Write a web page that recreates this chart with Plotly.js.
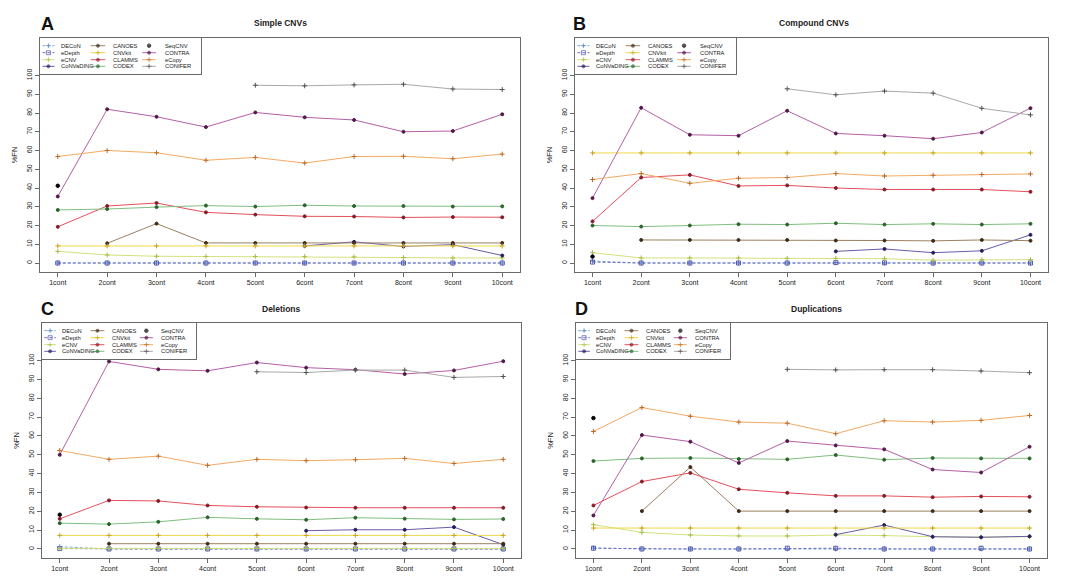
<!DOCTYPE html>
<html><head><meta charset="utf-8">
<script src="https://cdn.plot.ly/plotly-3.0.1.min.js"></script>
<style>html,body{margin:0;padding:0;background:#fff}#chart{width:1080px;height:584px}</style>
</head><body><div id="chart"></div>
<script>
const categories = ['1cont','2cont','3cont','4cont','5cont','6cont','7cont','8cont','9cont','10cont'];
const methods = ['DECoN','eDepth','eCNV','CoNVaDING','CANOES','CNVkit','CLAMMS','CODEX','SeqCNV','CONTRA','eCopy','CONIFER'];
const panelTitles = ['Simple CNVs','Compound CNVs','Deletions','Duplications'];
const panelLetters = ['A','B','C','D'];
const yTickValues = [0,10,20,30,40,50,60,70,80,90,100];
const yAxisTitle = '%FN';

// Panel A: Simple CNVs
const A_DECoN     = [0,0,0,0,0,0,0,0,0,0];
const A_eDepth    = [0,0,0,0,0,0,0,0,0,0];
const A_eCNV      = [6.2,4.3,3.6,3.5,3.5,3.5,3.3,2.9,2.7,2.7];
const A_CoNVaDING = [null,null,null,null,null,9.1,11.3,8.8,9.8,4.0];
const A_CANOES    = [null,10.5,21,10.7,10.7,10.7,10.7,10.7,10.7,10.7];
const A_CNVkit    = [9.1,9.1,9.1,9.1,9.1,9.1,9.1,9.1,9.1,9.1];
const A_CLAMMS    = [19.3,30.4,32,27,25.8,24.9,24.8,24.3,24.5,24.4];
const A_CODEX     = [28.3,28.8,29.8,30.6,30.1,30.8,30.4,30.4,30.1,30.2];
const A_SeqCNV    = [41.2,null,null,null,null,null,null,null,null,null];
const A_CONTRA    = [35.5,82,78,72.5,80.3,77.7,76.3,70,70.4,79.3];
const A_eCopy     = [56.8,60,58.8,54.8,56.3,53.3,56.8,56.9,55.6,58.1];
const A_CONIFER   = [null,null,null,null,94.8,94.5,95,95.3,92.8,92.5];

// Panel B: Compound CNVs
const B_DECoN     = [1,0,0,0,0,0.3,0,0,0,0];
const B_eDepth    = [0.5,0,0,0,0,0.2,0.1,0,0,0];
const B_eCNV      = [5.5,2.7,2.7,2.7,2.5,2.5,2.3,1.5,1.8,1.8];
const B_CoNVaDING = [null,null,null,null,null,6.2,7.5,5.5,6.5,15];
const B_CANOES    = [null,12.3,12.3,12.3,12.3,12,12,11.8,12.3,11.9];
const B_CNVkit    = [58.7,58.7,58.7,58.7,58.7,58.7,58.7,58.7,58.7,58.7];
const B_CLAMMS    = [22.2,45.6,47,41.1,41.4,40,39.2,39.2,39.2,38];
const B_CODEX     = [20,19.4,20,20.7,20.5,21.2,20.5,20.9,20.5,20.9];
const B_SeqCNV    = [3.4,null,null,null,null,null,null,null,null,null];
const B_CONTRA    = [34.6,82.8,68.4,67.9,81.2,69.1,67.9,66.3,69.6,82.6];
const B_eCopy     = [44.5,47.7,42.5,45.2,45.6,47.7,46.4,46.8,47.2,47.5];
const B_CONIFER   = [null,null,null,null,92.9,89.7,91.7,90.6,82.5,79];

// Panel C: Deletions
const C_DECoN     = [1.2,0,0,0,0,0,0,0,0,0];
const C_eDepth    = [0.2,0,0,0,0,0,0,0,0,0];
const C_eCNV      = [0.3,0.3,0.3,0.3,0.3,0.3,0.3,0.3,0.3,0.3];
const C_CoNVaDING = [null,null,null,null,null,9.7,10.2,10.2,11.6,2.3];
const C_CANOES    = [null,2.8,2.8,2.8,2.8,2.8,2.8,2.8,2.8,2.8];
const C_CNVkit    = [7.2,7.2,7.2,7.2,7.2,7.2,7.2,7.2,7.2,7.2];
const C_CLAMMS    = [16,25.8,25.5,23.1,22.4,22,21.9,21.9,21.9,21.9];
const C_CODEX     = [13.7,13.2,14.4,16.8,16,15.5,16.6,16.1,15.7,15.9];
const C_SeqCNV    = [18.2,null,null,null,null,null,null,null,null,null];
const C_CONTRA    = [50,99.6,95.4,94.6,99,96.3,95.2,92.9,94.8,99.7];
const C_eCopy     = [52.3,47.6,49.3,44.4,47.6,46.9,47.4,48.1,45.4,47.6];
const C_CONIFER   = [null,null,null,null,94.1,93.7,95,95,91.1,91.6];

// Panel D: Duplications
const D_DECoN     = [0.5,0,0,0,0,0,0,0,0,0];
const D_eDepth    = [0.4,0,0,0,0.4,0.4,0,0,0.4,0];
const D_eCNV      = [12.9,8.8,7.4,6.9,6.9,7.4,7.1,6.5,6.3,6.5];
const D_CoNVaDING = [null,null,null,null,null,7.6,12.7,6.5,6.2,6.7];
const D_CANOES    = [null,20.1,43.5,20.1,20.1,20.1,20.1,20.1,20.1,20.1];
const D_CNVkit    = [11.1,11.1,11.1,11.1,11.1,11.1,11.1,11.1,11.1,11.1];
const D_CLAMMS    = [23.1,35.8,40.4,31.7,29.8,28.2,28.2,27.5,27.9,27.7];
const D_CODEX     = [46.7,48.1,48.3,47.8,47.6,49.9,47.4,48.3,48.1,48.1];
const D_SeqCNV    = [69.5,null,null,null,null,null,null,null,null,null];
const D_CONTRA    = [17.8,60.5,57,45.7,57.3,55,52.9,42.2,40.6,54.3];
const D_eCopy     = [62.4,75.1,70.5,67.4,66.8,61.2,68.1,67.4,68.3,70.9];
const D_CONIFER   = [null,null,null,null,95.4,95.1,95.2,95.2,94.5,93.6];

const panelSeries = [
  [A_DECoN,A_eDepth,A_eCNV,A_CoNVaDING,A_CANOES,A_CNVkit,A_CLAMMS,A_CODEX,A_SeqCNV,A_CONTRA,A_eCopy,A_CONIFER],
  [B_DECoN,B_eDepth,B_eCNV,B_CoNVaDING,B_CANOES,B_CNVkit,B_CLAMMS,B_CODEX,B_SeqCNV,B_CONTRA,B_eCopy,B_CONIFER],
  [C_DECoN,C_eDepth,C_eCNV,C_CoNVaDING,C_CANOES,C_CNVkit,C_CLAMMS,C_CODEX,C_SeqCNV,C_CONTRA,C_eCopy,C_CONIFER],
  [D_DECoN,D_eDepth,D_eCNV,D_CoNVaDING,D_CANOES,D_CNVkit,D_CLAMMS,D_CODEX,D_SeqCNV,D_CONTRA,D_eCopy,D_CONIFER]
];

// ---- styles (not data) ----
const styles = {
  DECoN:     {color:'#7fa7d9', mcolor:'#4f80c0', symbol:'cross-thin-open', dash:'3px,2px', size:3.5},
  eDepth:    {color:'#6f6fc4', mcolor:'#5656b0', symbol:'square-open', dash:'3px,2px', size:4},
  eCNV:      {color:'#d3e27c', mcolor:'#a8bd48', symbol:'cross-thin-open', dash:'solid', size:3.5},
  CoNVaDING: {color:'#6a5aa8', mcolor:'#261e5c', symbol:'circle', dash:'solid', size:3},
  CANOES:    {color:'#9c8060', mcolor:'#3e2a18', symbol:'circle', dash:'solid', size:3},
  CNVkit:    {color:'#eed84c', mcolor:'#c8a420', symbol:'cross-thin-open', dash:'solid', size:3.5},
  CLAMMS:    {color:'#e4505c', mcolor:'#8a1a28', symbol:'circle', dash:'solid', size:3},
  CODEX:     {color:'#80be80', mcolor:'#2a642a', symbol:'circle', dash:'solid', size:3},
  SeqCNV:    {color:'#000000', mcolor:'#000000', symbol:'circle', dash:'solid', size:3.5, noline:true},
  CONTRA:    {color:'#b460a6', mcolor:'#521848', symbol:'circle', dash:'solid', size:3},
  eCopy:     {color:'#f3aa64', mcolor:'#b86a28', symbol:'cross-thin-open', dash:'solid', size:3.5},
  CONIFER:   {color:'#a9a9a9', mcolor:'#505050', symbol:'cross-thin-open', dash:'solid', size:3.5}
};

const W = 1080, H = 584;
const panels = [
  {x0:40,  x1:520,  y0:38,  y1:272, lw:161, tx:280, ty:23,  lx:47,  ly:24},
  {x0:575, x1:1048, y0:38,  y1:272, lw:161, tx:814, ty:23,  lx:579, ly:24},
  {x0:42,  x1:521,  y0:323, y1:558, lw:154, tx:281, ty:309, lx:47,  ly:309},
  {x0:576, x1:1047, y0:323, y1:558, lw:154, tx:816, ty:309, lx:581, ly:309}
];
const LH = 36;
const fx = p => p / W, fy = p => 1 - p / H;
const FONT = 'Liberation Sans, Arial, sans-serif';
const lineCol = '#6a6a6a';

const traces = [];
const layout = {
  width: W, height: H, margin: {l:0, r:0, t:0, b:0},
  paper_bgcolor: '#ffffff', plot_bgcolor: 'rgba(0,0,0,0)',
  showlegend: false, font: {family: FONT, color: '#222'},
  annotations: [], shapes: []
};

// legend geometry (fractions of legend box)
const colLine = [[0.015,0.09],[0.315,0.405],[0.635,0.72]];
const colText = [0.12, 0.44, 0.762];
const rowY = [1-7.7/36, 1-14.7/36, 1-21.7/36, 1-28.3/36];

panels.forEach((p, k) => {
  const ax = k + 1, lax = k + 5;
  const xa = 'xaxis' + (ax === 1 ? '' : ax), ya = 'yaxis' + (ax === 1 ? '' : ax);
  const xr = 'x' + (ax === 1 ? '' : ax), yr = 'y' + (ax === 1 ? '' : ax);
  layout[xa] = {
    domain: [fx(p.x0), fx(p.x1)], anchor: yr, type: 'category',
    categoryorder: 'array', categoryarray: categories, range: [-0.36, 9.36],
    showline: true, mirror: true, linecolor: lineCol, linewidth: 1,
    ticks: 'outside', ticklen: 4, tickcolor: lineCol, tickwidth: 1,
    tickfont: {size: 7, family: FONT, color: '#222'},
    showgrid: false, zeroline: false, fixedrange: true
  };
  layout[ya] = {
    domain: [fy(p.y1), fy(p.y0)], anchor: xr, range: [-4.8, 120],
    tickvals: yTickValues, ticktext: yTickValues.map(String), tickangle: -90,
    showline: true, mirror: true, linecolor: lineCol, linewidth: 1,
    ticks: 'outside', ticklen: 4, tickcolor: lineCol, tickwidth: 1,
    tickfont: {size: 7, family: FONT, color: '#222'},
    showgrid: false, zeroline: false, fixedrange: true,
    title: {text: yAxisTitle, font: {size: 7.5, family: FONT, color: '#222'}, standoff: 7}
  };
  panelSeries[k].forEach((vals, i) => {
    const m = methods[i], s = styles[m];
    traces.push({
      type: 'scatter', x: categories, y: vals, name: m,
      xaxis: xr, yaxis: yr,
      mode: s.noline ? 'markers' : 'lines+markers',
      line: {color: s.color, width: 1, dash: s.dash},
      marker: {color: s.mcolor, size: s.size, symbol: s.symbol, line: {color: s.mcolor, width: 1}},
      connectgaps: false, hoverinfo: 'name+y'
    });
  });
  // legend box via its own axis pair
  const lxa = 'xaxis' + lax, lya = 'yaxis' + lax;
  layout[lxa] = {domain: [fx(p.x0), fx(p.x0 + p.lw)], anchor: 'y' + lax, range: [0,1],
    showline: true, mirror: true, linecolor: lineCol, linewidth: 1,
    showticklabels: false, ticks: '', showgrid: false, zeroline: false, fixedrange: true};
  layout[lya] = {domain: [fy(p.y0 + LH), fy(p.y0)], anchor: 'x' + lax, range: [0,1],
    showline: true, mirror: true, linecolor: lineCol, linewidth: 1,
    showticklabels: false, ticks: '', showgrid: false, zeroline: false, fixedrange: true};
  methods.forEach((m, i) => {
    const s = styles[m], c = Math.floor(i / 4), r = i % 4;
    const [a, b] = colLine[c];
    traces.push({
      type: 'scatter', x: [a, (a + b) / 2, b], y: [rowY[r], rowY[r], rowY[r]],
      xaxis: 'x' + lax, yaxis: 'y' + lax, hoverinfo: 'skip', showlegend: false,
      mode: 'lines+markers',
      line: {color: s.color, width: s.noline ? 0 : 1, dash: s.dash},
      marker: {color: s.mcolor, size: [0, s.size, 0], symbol: s.symbol, line: {color: s.mcolor, width: 1}}
    });
    layout.annotations.push({
      xref: 'x' + lax, yref: 'y' + lax, x: colText[c], y: rowY[r], text: m,
      showarrow: false, xanchor: 'left', yanchor: 'middle',
      font: {size: 5.8, family: FONT, color: '#222'}
    });
  });
  // panel title and letter
  layout.annotations.push({
    xref: 'paper', yref: 'paper', x: fx(p.tx), y: fy(p.ty), text: '<b>' + panelTitles[k] + '</b>',
    showarrow: false, xanchor: 'center', yanchor: 'middle', font: {size: 8.5, family: FONT, color: '#222'}
  });
  layout.annotations.push({
    xref: 'paper', yref: 'paper', x: fx(p.lx), y: fy(p.ly), text: '<b>' + panelLetters[k] + '</b>',
    showarrow: false, xanchor: 'center', yanchor: 'middle',
    font: {size: 18, family: 'Liberation Sans Narrow, Liberation Sans, Arial, sans-serif', color: '#111'}
  });
});

Plotly.newPlot('chart', traces, layout, {displayModeBar: false, staticPlot: true});
</script>
</body></html>
